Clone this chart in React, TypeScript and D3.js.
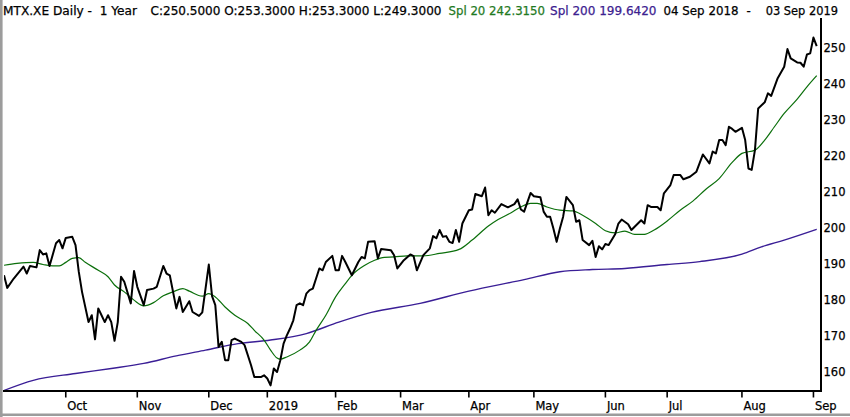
import React from "react";
import * as d3 from "d3";

// ---- Data (trading-day index from 04 Sep 2018, value) ----
const price: [number, number][] = [
  [0,186.8],[1,183.3],[3,185.9],[4,187.0],[6,189.2],[7,187.3],[8,189.4],[10,189.0],[11,193.8],[12,192.6],[13,192.9],[14,189.4],[16,195.7],[17,196.6],[18,194.3],[19,197.2],[21,197.5],[22,195.2],[23,187.8],[24,182.2],[26,173.8],[27,175.7],[28,169.0],[29,177.6],[30,175.7],[31,173.8],[32,175.7],[33,173.8],[34,168.6],[35,173.8],[36,186.4],[37,185.0],[39,179.0],[40,188.0],[41,183.6],[43,178.5],[44,182.7],[46,183.1],[47,183.6],[49,189.4],[50,187.3],[51,186.8],[53,177.6],[54,180.8],[55,176.6],[57,179.6],[58,176.6],[60,175.5],[61,176.5],[63,189.8],[64,181.0],[65,178.5],[66,166.9],[67,168.3],[68,163.2],[69,163.2],[70,168.8],[71,169.2],[73,168.3],[74,167.4],[76,161.8],[77,158.5],[79,158.5],[80,159.0],[81,158.1],[82,156.2],[83,160.9],[84,159.9],[85,163.2],[86,167.8],[87,170.1],[88,172.0],[89,174.3],[90,178.5],[91,179.0],[92,178.5],[93,181.7],[94,182.7],[95,183.1],[96,185.9],[97,188.7],[98,188.2],[99,190.5],[101,192.2],[102,188.2],[103,188.2],[104,192.2],[105,190.5],[107,186.8],[109,190.5],[110,191.9],[111,191.5],[112,196.1],[114,196.3],[115,191.5],[116,194.1],[119,193.8],[120,192.4],[121,188.7],[123,191.0],[125,192.6],[126,192.1],[127,188.2],[129,192.4],[131,194.3],[132,197.7],[133,197.1],[134,199.4],[135,197.5],[136,197.7],[137,196.1],[138,195.8],[139,199.4],[140,196.1],[141,201.2],[143,204.9],[144,205.1],[145,209.4],[147,208.8],[148,211.2],[149,203.5],[150,204.9],[151,204.2],[153,206.6],[155,205.7],[157,206.6],[158,207.9],[159,205.1],[160,204.5],[162,209.7],[163,208.8],[165,208.5],[166,204.5],[167,203.1],[168,203.1],[169,199.8],[170,196.1],[171,199.8],[172,203.1],[173,208.6],[175,206.3],[176,201.7],[177,202.1],[178,196.6],[180,195.2],[181,196.4],[182,191.9],[183,194.9],[184,194.0],[185,195.5],[186,195.2],[188,198.2],[189,201.2],[190,202.3],[192,201.0],[193,199.4],[195,201.2],[196,202.1],[197,201.2],[198,206.3],[199,205.8],[201,205.8],[202,204.9],[203,209.6],[205,211.9],[206,214.7],[208,214.7],[209,213.5],[211,214.2],[213,215.6],[215,220.4],[217,217.9],[218,221.2],[219,220.7],[220,224.4],[221,224.4],[222,223.0],[223,228.1],[224,227.5],[225,226.7],[227,227.8],[228,224.4],[229,216.5],[230,216.1],[231,221.6],[232,233.2],[234,234.9],[235,237.4],[236,236.7],[238,241.6],[240,244.8],[241,249.7],[242,247.1],[244,246.0],[245,245.9],[246,244.8],[247,248.2],[248,248.5],[249,252.9],[250,250.5]
];

const sma20: [number, number][] = [
  [0,189.6],[4,190.1],[9,190.4],[12,189.8],[15,189.4],[17,189.4],[19,190.4],[21,191.5],[23,191.7],[25,190.4],[29,188.2],[32,186.4],[34,184.1],[37,182.2],[40,179.9],[43,178.3],[46,179.2],[49,181.1],[52,182.2],[55,183.1],[57,182.4],[61,181.0],[63,181.7],[65,180.8],[68,178.0],[71,175.7],[75,173.4],[77,171.5],[80,168.8],[82,166.0],[84,163.8],[85,163.5],[87,164.1],[91,166.0],[94,168.3],[96,171.5],[99,175.7],[102,180.8],[105,184.5],[107,186.8],[111,189.6],[114,191.0],[117,191.8],[120,191.9],[124,192.2],[129,192.2],[134,192.9],[140,194.0],[144,196.6],[149,200.5],[152,202.3],[156,204.2],[159,205.8],[162,206.8],[164,206.8],[167,205.8],[171,204.9],[175,204.7],[178,203.5],[182,201.2],[185,199.2],[188,198.6],[191,199.1],[194,198.2],[197,198.2],[200,199.4],[204,201.9],[208,204.9],[212,207.5],[216,210.8],[220,213.7],[224,218.2],[227,220.7],[231,221.6],[234,224.4],[237,228.1],[240,231.8],[244,235.8],[247,239.2],[250,242.3]
];

const sma200: [number, number][] = [
  [0,154.8],[9,157.6],[22,159.5],[33,160.9],[43,162.3],[53,164.4],[62,166.0],[72,167.8],[82,168.8],[93,170.6],[103,173.8],[113,176.5],[128,179.0],[143,182.4],[160,185.6],[171,187.8],[181,188.4],[191,188.7],[204,189.8],[214,190.6],[227,192.7],[233,194.7],[240,196.6],[250,199.6]
];

const monthLabels = ["Oct","Nov","Dec","2019","Feb","Mar","Apr","May","Jun","Jul","Aug","Sep"];
const monthStartDay = [19,41,63,81,102,122,143,163,185,204,227,249];
const yTicks = [160,170,180,190,200,210,220,230,240,250];

const W = 850, H = 417;
const plotLeft = 4, plotRight = 821, plotTop = 18, plotBottom = 391;

const x = d3.scaleLinear().domain([0, 250]).range([4, 816.7]);
const y = d3.scaleLinear().domain([160, 250]).range([371.7, 48]);

const FONT = "'DejaVu Sans', Verdana, sans-serif";
const GREEN_LINE = "#0b6f0b";
const GREEN_TEXT = "#1f7a1f";
const PURPLE_LINE = "#3a1e96";
const PURPLE_TEXT = "#3c2190";

export default function App() {
  const lineGen = d3.line<[number, number]>().x(d => x(d[0])).y(d => y(d[1]));
  const smooth = d3.line<[number, number]>().x(d => x(d[0])).y(d => y(d[1])).curve(d3.curveMonotoneX);

  return (
    <svg width={W} height={H} style={{ position: "absolute", left: 0, top: 0, background: "#fff" }}
      fontFamily={FONT}>
      <defs>
        <clipPath id="plotClip">
          <rect x={plotLeft} y={plotTop} width={plotRight - plotLeft} height={plotBottom - plotTop} />
        </clipPath>
      </defs>
      <rect x={0} y={0} width={W} height={H} fill="#fff" />

      {/* title */}
      <g fontSize={11.8} fill="#000" stroke="#000" strokeWidth={0.25}>
        <text x={3} y={15} textLength={134} lengthAdjust="spacingAndGlyphs" xmlSpace="preserve">MTX.XE Daily -  1 Year</text>
        <text x={150.5} y={15} textLength={291} lengthAdjust="spacingAndGlyphs">C:250.5000 O:253.3000 H:253.3000 L:249.3000</text>
        <text x={448.5} y={15} fill={GREEN_TEXT} stroke={GREEN_TEXT} textLength={96.5} lengthAdjust="spacingAndGlyphs">Spl 20 242.3150</text>
        <text x={550} y={15} fill={PURPLE_TEXT} stroke={PURPLE_TEXT} textLength={106.5} lengthAdjust="spacingAndGlyphs">Spl 200 199.6420</text>
        <text x={663.5} y={15} textLength={75} lengthAdjust="spacingAndGlyphs">04 Sep 2018</text>
        <text x={746.5} y={15}>-</text>
        <text x={765.7} y={15} textLength={72.3} lengthAdjust="spacingAndGlyphs">03 Sep 2019</text>
      </g>

      {/* series */}
      <g clipPath="url(#plotClip)" fill="none" strokeLinejoin="round">
        <path d={smooth(sma200) || ""} stroke={PURPLE_LINE} strokeWidth={1.4} />
        <path d={smooth(sma20) || ""} stroke={GREEN_LINE} strokeWidth={1.2} />
        <path d={lineGen(price) || ""} stroke="#000" strokeWidth={2} />
      </g>

      {/* axes */}
      <line x1={plotLeft - 1} x2={plotRight + 1} y1={plotBottom} y2={plotBottom} stroke="#000" strokeWidth={2.2} />
      <line x1={plotRight} x2={plotRight} y1={plotTop} y2={plotBottom} stroke="#000" strokeWidth={2} />

      <g stroke="#000" strokeWidth={0.25}>
        {monthStartDay.map((d, i) => (
          <g key={monthLabels[i]}>
            <line x1={x(d)} x2={x(d)} y1={plotBottom} y2={plotBottom + 6.5} stroke="#000" strokeWidth={1.6} />
            <text x={x(d) + 1.5} y={410} fontSize={11.5} fill="#000">{monthLabels[i]}</text>
          </g>
        ))}

        {yTicks.map(v => (
          <text key={v} x={823.5} y={y(v)} dy="0.36em" fontSize={11.5} fill="#000">{v}</text>
        ))}
      </g>

      {/* outer frame */}
      <line x1={1.3} x2={1.3} y1={0} y2={H} stroke="#9c9c9c" strokeWidth={2.6} />
      <line x1={0} x2={W} y1={414.8} y2={414.8} stroke="#9c9c9c" strokeWidth={2.6} />
    </svg>
  );
}
